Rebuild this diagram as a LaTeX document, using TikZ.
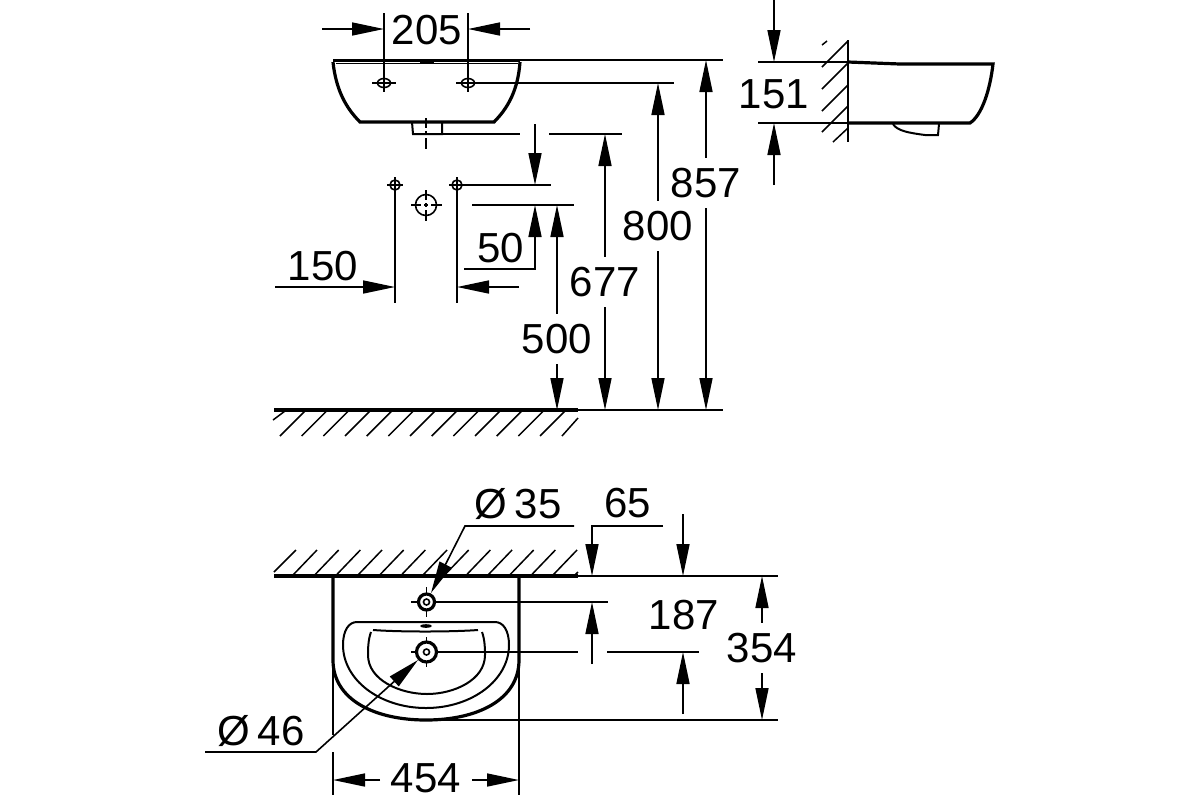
\documentclass[tikz,border=0pt]{standalone}
\usepackage{fontspec}
\setmainfont{Liberation Sans}
\usetikzlibrary{arrows.meta}
\tikzset{
  thinline/.style={line width=.8pt},
  thickline/.style={line width=1.6pt},
  midline/.style={line width=1pt},
  hatchline/.style={line width=.75pt},
  dimarrow/.style={line width=.8pt,-{Triangle[length=16pt,width=6.5pt]}},
  crossdash/.style={line width=.7pt,dash pattern=on 5pt off 1.5pt on 2pt off 1.5pt on 5.5pt},
  dimtext/.style={font=\fontsize{21}{21}\selectfont,inner sep=5pt}
}

\begin{document}
\begin{tikzpicture}[x=.5pt,y=-.5pt]
\useasboundingbox (0,0) rectangle (1200,800);
\coordinate (floorline) at (0,410);
\coordinate (topwall) at (0,576);

% labels
\node[dimtext] (t205) at (427,30) {205};
\node[dimtext] (t151) at (774,94) {151};
\node[dimtext] (t150) at (323,266) {150};
\node[dimtext] (t50) at (501,248) {50};
\node[dimtext] (t500) at (557,339) {500};
\node[dimtext] (t677) at (605,282) {677};
\node[dimtext] (t800) at (658,226) {800};
\node[dimtext] (t857) at (706,183) {857};
\node[dimtext] (t35) at (518,504) {Ø\hspace{4pt}35};
\node[dimtext] (t46) at (261,731) {Ø\hspace{4pt}46};
\node[dimtext] (t65) at (628,503) {65};
\node[dimtext] (t187) at (684,615) {187};
\node[dimtext] (t354) at (762,648) {354};
\node[dimtext,inner sep=0pt] (t454) at (426,778) {454};

% front view
\draw[thickline] (333,62) .. controls (336,90) and (346,108) .. (360,122) -- (494,122)
  .. controls (508,108) and (518,90) .. (520,62);
\draw[thickline] (333,60.5) -- (520,60.5);
\draw[thinline] (336,63.5) -- (518,63.5);
\fill (420,60) rectangle (434,64);
\draw[midline] (412,122) -- (413,134) -- (442,134) -- (442,122);
\draw[crossdash] (426,118) -- (426,149);
\foreach \hx in {384,468}{
  \draw[thinline] (\hx,83) ellipse [x radius=6.5,y radius=4.5];
  \draw[thinline] (\hx-12,83) -- (\hx+12,83);
  \draw[thinline] (\hx,13) -- (\hx,92);
}
\draw[dimarrow] (322,29) -- (384,29);
\draw[dimarrow] (530,29) -- (468,29);
\draw[thinline] (520,60) -- (723,60);
\draw[thinline] (478,83) -- (674,83);
\draw[thinline] (442,134) -- (520,134);
\draw[thinline] (549,134) -- (622,134);

% wall fixing
\foreach \hx in {395,457}{
  \draw[thinline] (\hx,185) circle (5);
  \draw[thinline] (\hx-8,185) -- (\hx+8,185);
  \draw[thinline] (\hx,177) -- (\hx,303);
}
\draw[thinline] (426,205) circle (10.5);
\draw[crossdash] (411,205) -- (442,205);
\draw[crossdash] (426,190) -- (426,222);
\draw[thinline] (462,185) -- (551,185);
\draw[thinline] (472,205) -- (574,205);
\draw[dimarrow] (535,124) -- (535,185);
\draw[dimarrow] (464,269) -- (535,269) -- (535,205);
\draw[dimarrow] (275,287) -- (395,287);
\draw[dimarrow] (519,287) -- (457,287);

% heights from the floor
\draw[dimarrow] (t500.north) -- (557,205);
\draw[dimarrow] (t500.south) -- (t500.south|-floorline);
\draw[dimarrow] (t677.north) -- (605,134);
\draw[dimarrow] (t677.south) -- (t677.south|-floorline);
\draw[dimarrow] (t800.north) -- (658,83);
\draw[dimarrow] (t800.south) -- (t800.south|-floorline);
\draw[dimarrow] (t857.north) -- (706,60);
\draw[dimarrow] (t857.south) -- (t857.south|-floorline);
\draw[thickline] (274,410) -- (578,410);
\draw[thinline] (578,410) -- (723,410);
\draw[hatchline] (273,420) -- (285,411);
\foreach \k in {0,...,12}
  \draw[hatchline] ({280+21.67*\k},436) -- ++(25,-25);
\draw[hatchline] (562,436) -- (578,418);

% side view
\draw[midline] (848,40) -- (848,142);
\draw[hatchline] (822,45) -- (827,41);
\foreach \hy in {67,89,111,132}
  \draw[hatchline] (822,\hy) -- ++(26,-26);
\draw[hatchline] (833,142) -- (848,128);
\draw[thinline] (758,62) -- (848,62);
\draw[thinline] (758,123) -- (848,123);
\draw[dimarrow] (774,0) -- (774,62);
\draw[dimarrow] (774,185) -- (774,123);
\draw[thickline] (848,62) -- (900,64) -- (993,64) .. controls (990,90) and (982,115) .. (970,123) -- (848,123);
\draw[midline] (893,124) .. controls (897,131) and (910,133) .. (925,135) -- (938,135) -- (939,124);

% top view
\draw[thickline] (274,576) -- (578,576);
\draw[thinline] (578,576) -- (778,576);
\draw[hatchline] (274,572) -- (296,550);
\foreach \k in {0,...,12}
  \draw[hatchline] ({293+21.67*\k},575) -- ++(24,-25);
\draw[hatchline] (575,575) -- (578,572);
\draw[thickline] (333,576) -- (333,660) .. controls (333,700) and (375,720) .. (426,720)
  .. controls (477,720) and (519,700) .. (519,660) -- (519,576);
\draw[midline] (357,622) .. controls (349,622) and (343,630) .. (343,645)
  .. controls (343,680) and (380,708) .. (426,708)
  .. controls (472,708) and (509,680) .. (509,645)
  .. controls (509,630) and (503,622) .. (495,622) -- cycle;
\draw[midline] (373,630) .. controls (400,632) and (450,632) .. (478,630);
\draw[midline] (371,632) .. controls (368,640) and (368,650) .. (368,655)
  .. controls (368,680) and (400,694) .. (427,694)
  .. controls (454,694) and (485,680) .. (485,655)
  .. controls (485,650) and (485,640) .. (482,632);
\fill (426,626) ellipse [x radius=6,y radius=1.8];
\draw[thickline] (426.5,602) circle (8);
\draw[thinline] (426.5,602) circle (3);
\draw[thickline] (426.5,652) circle (10);
\draw[thinline] (426.5,652) circle (3);
\draw[thinline] (411,602) -- (418,602);
\draw[thinline] (426.5,587) -- (426.5,594);
\draw[thinline] (426.5,610) -- (426.5,617);
\draw[thinline] (411,652) -- (416,652);
\draw[thinline] (426.5,637) -- (426.5,642);
\draw[thinline] (426.5,662) -- (426.5,667);
\draw[thinline] (435,602) -- (608,602);
\draw[thinline] (437,652) -- (578,652);
\draw[thinline] (607,652) -- (699,652);
\draw[thinline] (426,720) -- (778,720);
\draw[thinline] (333,660) -- (333,735);
\draw[thinline] (333,752) -- (333,795);
\draw[thinline] (519,660) -- (519,795);

% dimensions of the top view
\draw[dimarrow] (663,526) -- (592,526) -- (592,576);
\draw[dimarrow] (683,514) -- (683,576);
\draw[dimarrow] (592,664) -- (592,602);
\draw[dimarrow] (683,714) -- (683,652);
\draw[dimarrow] (t354.north) -- (t354.north|-topwall);
\draw[dimarrow] (t354.south) -- (762,720);
\draw[dimarrow] (380,780) -- (333,780);
\draw[dimarrow] (472,780) -- (519,780);
\draw[dimarrow] (574,526) -- (465,526) -- (431,593);
\draw[dimarrow] (205,752) -- (316,752) -- (418,660);
\end{tikzpicture}
\end{document}
